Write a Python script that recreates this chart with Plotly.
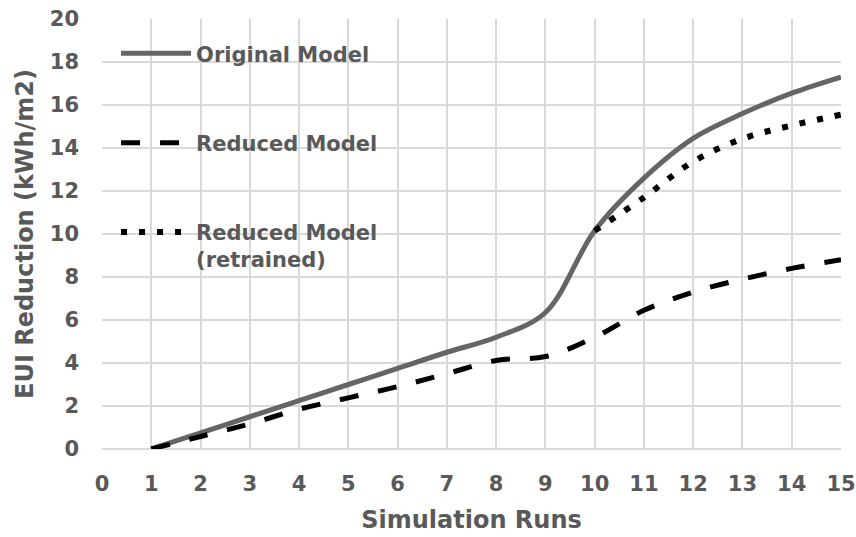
import plotly.graph_objects as go

runs = list(range(1, 16))
original = [0, 0.75, 1.5, 2.25, 3.0, 3.75, 4.5, 5.2, 6.35, 10.15, 12.6, 14.45, 15.6, 16.55, 17.3]
reduced = [0, 0.58, 1.17, 1.85, 2.38, 2.9, 3.5, 4.12, 4.3, 5.2, 6.45, 7.3, 7.9, 8.4, 8.8]
retrained_runs = list(range(10, 16))
retrained = [10.15, 11.7, 13.37, 14.43, 15.05, 15.55]

x_ticks = list(range(0, 16))
y_ticks = list(range(0, 21, 2))

TXT = "#595959"
GRID = "#d9d9d9"
FONT = "DejaVu Sans"

fig = go.Figure()
fig.add_trace(go.Scatter(
    x=runs, y=original, mode="lines", name="Original Model", legendgroup="a",
    line=dict(color="#656565", width=5, shape="spline", smoothing=1.0),
))
fig.add_trace(go.Scatter(
    x=runs, y=reduced, mode="lines", name="Reduced Model", legendgroup="b",
    line=dict(color="#000000", width=5, shape="spline", smoothing=1.0, dash="19px,20px"),
))
fig.add_trace(go.Scatter(
    x=retrained_runs, y=retrained, mode="lines", name="Reduced Model<br>(retrained)", legendgroup="c",
    line=dict(color="#000000", width=6, shape="spline", smoothing=1.0, dash="6px,12px"),
))

fig.update_layout(
    width=856, height=537, autosize=False,
    margin=dict(l=102, r=15, t=19, b=88, autoexpand=False),
    plot_bgcolor="white", paper_bgcolor="white",
    font=dict(family=FONT, color=TXT, weight="bold"),
    showlegend=True,
    legend=dict(
        x=0.019, y=0.967, xanchor="left", yanchor="top",
        bgcolor="rgba(0,0,0,0)",
        font=dict(family=FONT, size=21, color=TXT, weight="bold"),
        tracegroupgap=59, itemwidth=70, valign="top",
    ),
    xaxis=dict(
        range=[0, 15], tickvals=x_ticks, ticktext=[str(v) for v in x_ticks],
        showgrid=True, gridcolor=GRID, gridwidth=1.5, zeroline=False, showline=False,
        ticks="", ticklabelstandoff=20, automargin=False,
        tickfont=dict(family=FONT, size=21, color=TXT, weight="bold"),
        title=dict(text="Simulation Runs", standoff=16,
                   font=dict(family=FONT, size=24, color=TXT, weight="bold")),
    ),
    yaxis=dict(
        range=[0, 20], tickvals=y_ticks, ticktext=[str(v) for v in y_ticks],
        showgrid=True, gridcolor=GRID, gridwidth=1.5, zeroline=True, zerolinecolor=GRID,
        zerolinewidth=1.5, showline=False,
        ticks="", ticklabelstandoff=22, automargin=False,
        tickfont=dict(family=FONT, size=21, color=TXT, weight="bold"),
        title=dict(text="EUI Reduction (kWh/m2)", standoff=9,
                   font=dict(family=FONT, size=24, color=TXT, weight="bold")),
    ),
)

fig.write_html(
    "out.html",
    config={"displayModeBar": False},
    post_script="document.body.style.margin='0';document.body.style.padding='0';",
)
